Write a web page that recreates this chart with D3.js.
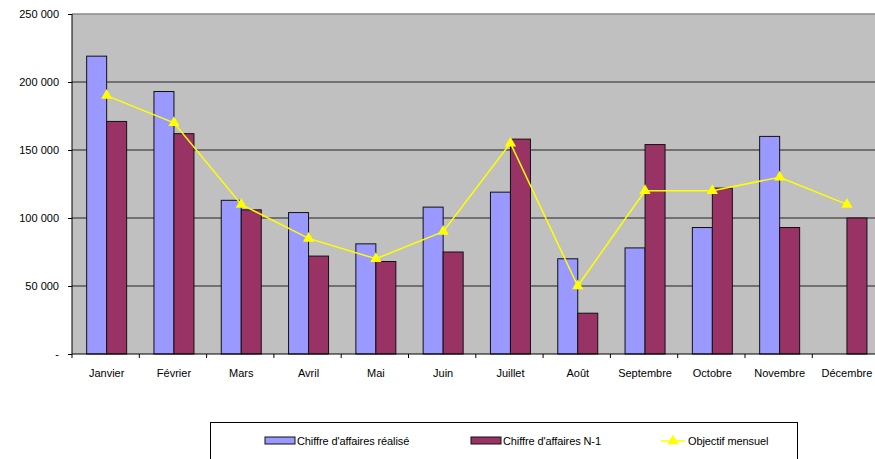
<!DOCTYPE html>
<html>
<head>
<meta charset="utf-8">
<script src="https://cdn.jsdelivr.net/npm/d3@7"></script>
<style>
  body { margin: 0; background: #fff; }
  svg text { font-family: "Liberation Sans", Arial, sans-serif; font-size: 11px; fill: #000; }
</style>
</head>
<body>
<svg width="875" height="459"></svg>
<script>
(function() {
    const months = ['Janvier', 'Février', 'Mars', 'Avril', 'Mai', 'Juin', 'Juillet', 'Août', 'Septembre', 'Octobre', 'Novembre', 'Décembre']
    const realise = [219000, 193000, 113000, 104000, 81000, 108000, 119000, 70000, 78000, 93000, 160000, null]
    const anneeN1 = [171000, 162000, 106000, 72000, 68000, 75000, 158000, 30000, 154000, 122000, 93000, 100000]
    const objectif = [190000, 170000, 110000, 85000, 70000, 90000, 155000, 50000, 120000, 120000, 130000, 110000]
    const yTicks = [0, 50000, 100000, 150000, 200000, 250000]
    const seriesNames = ['Chiffre d\'affaires réalisé', 'Chiffre d\'affaires N-1', 'Objectif mensuel']

    const svg = d3.select('svg')
    const left = 72, top = 14, bottom = 354
    const right = left + 12 * 67.3

    const x = d3.scaleBand().domain(months).range([left, right])
    const bw = x.bandwidth()
    const gw = 40
    const x1 = d3.scaleBand().domain(['r', 'n']).range([(bw - gw) / 2 + 1, (bw + gw) / 2 + 1])
    const y = d3.scaleLinear().domain([0, 250000]).range([bottom, top])

    const blue = '#9999ff', maroon = '#993366', yellow = '#ffff00'

    // plot area
    svg.append('rect')
        .attr('x', left).attr('y', top)
        .attr('width', right - left).attr('height', bottom - top)
        .attr('fill', '#c0c0c0')

    // gridlines
    svg.append('g').selectAll('line')
        .data(yTicks.filter(d => d > 0))
        .enter().append('line')
        .attr('x1', left).attr('x2', right)
        .attr('y1', d => y(d)).attr('y2', d => y(d))
        .attr('stroke', d => d === 250000 ? '#8a8a8a' : '#222')
        .attr('stroke-width', d => d === 250000 ? 1.5 : 1)

    // y axis
    const fmt = d => d === 0 ? '-' : d3.format(',')(d).replace(/,/g, ' ')
    const yAxis = svg.append('g')
        .attr('transform', `translate(${left},0)`)
        .call(d3.axisLeft(y).tickValues(yTicks).tickSize(4).tickPadding(9).tickFormat(fmt))
    yAxis.select('.domain').attr('stroke', '#000').attr('d', `M0,${top}V${bottom}`)
    yAxis.selectAll('.tick line').attr('stroke', '#000')
    yAxis.selectAll('text').style('font-size', '11px').attr('dy', '0.35em')

    // bars
    const groups = svg.append('g').selectAll('g')
        .data(months)
        .enter().append('g')
        .attr('transform', d => `translate(${x(d)},0)`)

    groups.each(function(m, i) {
        const g = d3.select(this)
        const vals = [['r', realise[i], blue], ['n', anneeN1[i], maroon]]
        vals.filter(v => v[1] != null).forEach(v => {
            g.append('rect')
                .attr('x', x1(v[0]))
                .attr('y', y(v[1]))
                .attr('width', x1.bandwidth())
                .attr('height', y(0) - y(v[1]))
                .attr('fill', v[2])
                .attr('stroke', '#111')
                .attr('stroke-width', 1)
        })
    })

    // x axis
    const xAxis = svg.append('g')
        .attr('transform', `translate(0,${bottom})`)
    xAxis.append('line')
        .attr('x1', left).attr('x2', right)
        .attr('stroke', '#000')
    xAxis.selectAll('line.tk')
        .data(d3.range(13))
        .enter().append('line')
        .attr('class', 'tk')
        .attr('x1', i => left + i * bw).attr('x2', i => left + i * bw)
        .attr('y1', 0).attr('y2', 4)
        .attr('stroke', '#000')
    xAxis.selectAll('text')
        .data(months)
        .enter().append('text')
        .attr('x', d => x(d) + bw / 2 + 1)
        .attr('y', 23)
        .attr('text-anchor', 'middle')
        .text(d => d)

    // objective line
    const line = d3.line()
        .x((d, i) => x(months[i]) + bw / 2 + 1)
        .y(d => y(d))
    svg.append('path')
        .datum(objectif)
        .attr('d', line)
        .attr('fill', 'none')
        .attr('stroke', yellow)
        .attr('stroke-width', 1.5)

    const tri = d3.symbol().type(d3.symbolTriangle).size(55)
    svg.append('g').selectAll('path')
        .data(objectif)
        .enter().append('path')
        .attr('d', tri)
        .attr('transform', (d, i) => `translate(${x(months[i]) + bw / 2 + 1},${y(d)})`)
        .attr('fill', yellow)

    // legend
    const lg = svg.append('g')
    lg.append('rect')
        .attr('x', 210.5).attr('y', 422.5)
        .attr('width', 587).attr('height', 60)
        .attr('fill', '#fff')
        .attr('stroke', '#000')
        .attr('stroke-width', 1)

    const items = [
        { name: seriesNames[0], x: 265, type: 'bar', color: blue },
        { name: seriesNames[1], x: 471, type: 'bar', color: maroon },
        { name: seriesNames[2], x: 661, type: 'line', color: yellow }
    ]
    items.forEach(it => {
        if (it.type === 'bar') {
            lg.append('rect')
                .attr('x', it.x).attr('y', 437)
                .attr('width', 30).attr('height', 7)
                .attr('fill', it.color)
                .attr('stroke', '#111')
        } else {
            lg.append('line')
                .attr('x1', it.x).attr('x2', it.x + 24)
                .attr('y1', 441).attr('y2', 441)
                .attr('stroke', it.color).attr('stroke-width', 1.5)
            lg.append('path')
                .attr('d', tri)
                .attr('transform', `translate(${it.x + 12},441)`)
                .attr('fill', it.color)
        }
        lg.append('text')
            .attr('x', it.x + (it.type === 'bar' ? 32 : 27))
            .attr('y', 445)
            .style('font-size', '11px')
            .style('letter-spacing', '-0.1px')
            .text(it.name)
    })
})()
</script>
</body>
</html>
